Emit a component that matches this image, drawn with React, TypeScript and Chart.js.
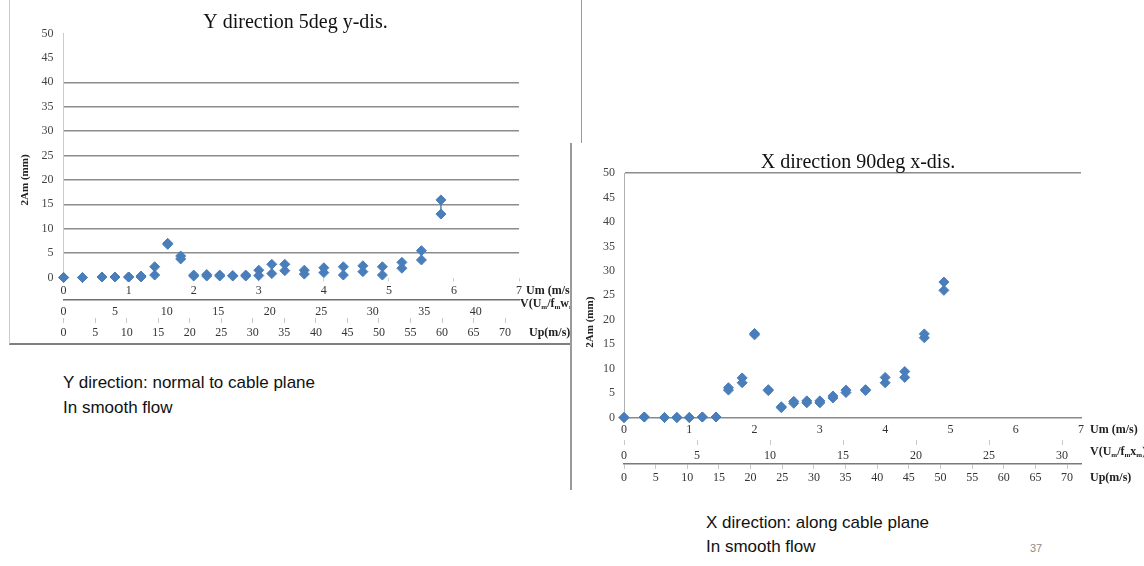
import React, { useEffect, useRef } from 'react';
import { Chart, registerables } from 'chart.js';

Chart.register(...registerables);

const SERIF = '"Liberation Serif", "Times New Roman", serif';
const SANS = '"Liberation Sans", Arial, sans-serif';
const BLUE = '#4a7ebb';

// ---- Y direction 5deg y-dis. (left chart): Um (m/s) and the two measured 2Am values ----
const yDirUm = [0, 0.29, 0.59, 0.79, 1.0, 1.19, 1.4, 1.6, 1.8, 2.0, 2.2, 2.4, 2.6, 2.8, 3.0, 3.2, 3.4, 3.7, 4.0, 4.3, 4.6, 4.9, 5.2, 5.5, 5.8];
const yDirUpper = [0, 0, 0.1, 0.1, 0.1, 0.3, 2.2, 7.0, 4.4, 0.5, 0.6, 0.5, 0.4, 0.5, 1.5, 2.7, 2.7, 1.5, 2.0, 2.2, 2.4, 2.2, 3.1, 5.5, 15.9];
const yDirLower = [0, 0, 0.1, 0.1, 0.1, 0.1, 0.5, 6.8, 3.8, 0.3, 0.3, 0.3, 0.3, 0.3, 0.4, 0.8, 1.4, 0.7, 1.0, 0.5, 1.2, 0.5, 1.9, 3.6, 13.0];

// ---- X direction 90deg x-dis. (right chart) ----
const xDirUm = [0, 0.31, 0.62, 0.81, 1.0, 1.2, 1.41, 1.6, 1.81, 2.0, 2.21, 2.41, 2.6, 2.8, 3.0, 3.2, 3.4, 3.7, 4.0, 4.3, 4.6, 4.9];
const xDirUpper = [0, 0.1, 0, 0, 0, 0.1, 0.1, 6.1, 8.1, 17.2, 5.7, 2.2, 3.3, 3.4, 3.4, 4.4, 5.6, 5.7, 8.2, 9.4, 17.1, 27.7];
const xDirLower = [0, 0.1, 0, 0, 0, 0.1, 0.1, 5.6, 7.1, 16.9, 5.5, 2.0, 2.9, 3.0, 3.0, 4.0, 5.1, 5.5, 7.1, 8.2, 16.3, 26.0];

// ---- axis ranges / ticks ----
const amMax = 50;
const amStep = 5;
const umMax = 7;
const umStep = 1;
const yDirVMax = 44.2;
const xDirVMax = 31.3;
const vStep = 5;
const upMax = 72.2;
const upStep = 5;

// ---- texts ----
const Y_TITLE = '2Am (mm)';
const UM_NAME = [{ t: 'Um (m/s)' }];
const UP_NAME = [{ t: 'Up(m/s)' }];
const V_NAME_Y = [{ t: 'V(U' }, { t: 'm', sub: true }, { t: '/f' }, { t: 'm', sub: true }, { t: 'w' }, { t: 'm', sub: true }, { t: ')' }];
const V_NAME_X = [{ t: 'V(U' }, { t: 'm', sub: true }, { t: '/f' }, { t: 'm', sub: true }, { t: 'x' }, { t: 'm', sub: true }, { t: ')' }];

type Seg = { t: string; sub?: boolean };

function drawRich(ctx: CanvasRenderingContext2D, x: number, y: number, segs: Seg[], size: number) {
  let cx = x;
  for (const s of segs) {
    const fs = s.sub ? Math.round(size * 0.62) : size;
    ctx.font = `bold ${fs}px ${SERIF}`;
    ctx.fillText(s.t, cx, s.sub ? y + size * 0.28 : y);
    cx += ctx.measureText(s.t).width;
  }
}

function makeExtras(L: any) {
  return {
    id: 'extras' + L.key,
    beforeDatasetsDraw(chart: any) {
      const xs = chart.scales.x;
      const ys = chart.scales.y;
      const ctx = chart.ctx as CanvasRenderingContext2D;
      ctx.save();
      ctx.strokeStyle = BLUE;
      ctx.lineWidth = 1.5;
      L.um.forEach((u: number, i: number) => {
        const px = xs.getPixelForValue(u);
        const a = ys.getPixelForValue(L.lower[i]);
        const b = ys.getPixelForValue(L.upper[i]);
        if (Math.abs(a - b) > 1) {
          ctx.beginPath();
          ctx.moveTo(px, a);
          ctx.lineTo(px, b);
          ctx.stroke();
        }
      });
      ctx.restore();
    },
    afterDraw(chart: any) {
      const ctx = chart.ctx as CanvasRenderingContext2D;
      const area = chart.chartArea;
      ctx.save();
      ctx.fillStyle = '#222';
      ctx.textBaseline = 'middle';
      ctx.textAlign = 'center';
      ctx.font = `bold 11px ${SERIF}`;
      ctx.translate(area.left + L.yTitleDx, area.top + (area.bottom - area.top) * L.yTitleFrac);
      ctx.rotate(-Math.PI / 2);
      ctx.fillText(Y_TITLE, 0, 0);
      ctx.restore();
      ctx.save();
      ctx.fillStyle = '#222';
      ctx.textBaseline = 'middle';
      ctx.textAlign = 'left';
      for (const n of L.names) {
        const s = chart.scales[n.scale];
        drawRich(ctx, area.right + n.dx, s.top + n.dy, n.segs, 12);
      }
      ctx.restore();
    },
  };
}

const tickFont = { family: SERIF, size: 12 };

function buildConfig(L: any): any {
  const pts = (ys: number[]) => L.um.map((u: number, i: number) => ({ x: u, y: ys[i] }));
  const ds = (ys: number[]) => ({
    data: pts(ys),
    pointStyle: 'rectRot',
    pointRadius: 5,
    backgroundColor: BLUE,
    borderColor: BLUE,
    borderWidth: 1,
    clip: false,
  });
  return {
    type: 'scatter',
    data: { datasets: [ds(L.lower), ds(L.upper)] },
    plugins: [makeExtras(L)],
    options: {
      responsive: false,
      animation: false,
      events: [],
      layout: { padding: 0 },
      plugins: {
        legend: { display: false },
        tooltip: { enabled: false },
        title: {
          display: true,
          text: L.title,
          color: '#111',
          font: { family: SERIF, size: 20, weight: 'normal', lineHeight: 1.05 },
          padding: L.titlePad,
        },
      },
      scales: {
        y: {
          type: 'linear',
          position: 'left',
          min: 0,
          max: amMax,
          afterFit: (s: any) => { s.width = L.yWidth; },
          ticks: { stepSize: amStep, padding: L.yTickPad, color: '#444', font: tickFont },
          grid: {
            drawTicks: false,
            lineWidth: 1.5,
            color: (c: any) => L.gridColor(c.tick ? c.tick.value : -1),
          },
          border: { display: true, color: L.yAxisColor, width: 1 },
        },
        rpad: {
          type: 'linear',
          axis: 'y',
          position: 'right',
          display: true,
          afterFit: (s: any) => { s.width = L.padRight; },
          ticks: { display: false },
          grid: { display: false, drawTicks: false },
          border: { display: false },
        },
        x: {
          type: 'linear',
          position: 'bottom',
          weight: 0,
          min: 0,
          max: umMax,
          afterFit: (s: any) => { s.height = L.umH; },
          ticks: { stepSize: umStep, padding: L.umPad, color: '#333', font: tickFont, autoSkip: false, maxRotation: 0, includeBounds: false },
          grid: { drawOnChartArea: false, drawTicks: L.umTicks > 0, tickLength: L.umTicks, color: '#cfcfcf' },
          border: { display: L.umBorder, color: '#8a8a8a', width: 1.5 },
        },
        v: {
          type: 'linear',
          axis: 'x',
          position: 'bottom',
          weight: 1,
          min: 0,
          max: L.vMax,
          afterFit: (s: any) => { s.height = L.vH; },
          ticks: { stepSize: vStep, padding: L.vPad, color: '#333', font: tickFont, autoSkip: false, maxRotation: 0, includeBounds: false },
          grid: { drawOnChartArea: false, drawTicks: L.vTicks > 0, tickLength: L.vTicks, color: '#c8c8c8' },
          border: { display: L.vBorder, color: '#6f6f6f', width: 1.5 },
        },
        up: {
          type: 'linear',
          axis: 'x',
          position: 'bottom',
          weight: 2,
          min: 0,
          max: upMax,
          afterFit: (s: any) => { s.height = L.upH; },
          ticks: { stepSize: upStep, padding: L.upPad, color: '#333', font: tickFont, autoSkip: false, maxRotation: 0, includeBounds: false },
          grid: { drawOnChartArea: false, drawTicks: true, tickLength: 5, color: '#c8c8c8' },
          border: { display: L.upBorder, color: '#7a7a7a', width: 1.5 },
        },
      },
    },
  };
}

const LEFT = {
  key: 'Y',
  title: 'Y direction 5deg y-dis.',
  um: yDirUm,
  upper: yDirUpper,
  lower: yDirLower,
  w: 571,
  h: 343,
  padRight: 62,
  yWidth: 53.6,
  yTickPad: 10,
  titlePad: { top: 12, bottom: 0.5 },
  gridColor: (v: number) => (v >= 5 && v <= 40 ? '#8c8c8c' : 'rgba(0,0,0,0)'),
  yAxisColor: '#cccccc',
  umH: 22.5, umPad: 2, umTicks: 4, umBorder: false,
  vH: 18, vPad: 5, vTicks: 0, vBorder: true, vMax: yDirVMax,
  upH: 25, upPad: 3, upBorder: false,
  yTitleDx: -38.6,
  yTitleFrac: 0.6,
  names: [
    { scale: 'x', dx: 7, dy: 13.5, segs: UM_NAME },
    { scale: 'v', dx: 1, dy: 3.5, segs: V_NAME_Y },
    { scale: 'up', dx: 10, dy: 14.5, segs: UP_NAME },
  ],
};

const RIGHT = {
  key: 'X',
  title: 'X direction 90deg x-dis.',
  um: xDirUm,
  upper: xDirUpper,
  lower: xDirLower,
  w: 572,
  h: 347,
  padRight: 63,
  yWidth: 52,
  yTickPad: 9,
  titlePad: { top: 9, bottom: 0 },
  gridColor: (v: number) => (v === 50 ? '#8c8c8c' : 'rgba(0,0,0,0)'),
  yAxisColor: '#b0b0b0',
  umH: 22.5, umPad: 5, umTicks: 0, umBorder: true,
  vH: 24, vPad: 3.8, vTicks: 5, vBorder: false, vMax: xDirVMax,
  upH: 26, upPad: 2, upBorder: true,
  yTitleDx: -34,
  yTitleFrac: 0.61,
  names: [
    { scale: 'x', dx: 9, dy: 12, segs: UM_NAME },
    { scale: 'v', dx: 9, dy: 12, segs: V_NAME_X },
    { scale: 'up', dx: 9, dy: 14, segs: UP_NAME },
  ],
};

function ChartCanvas({ L, left, top }: { L: any; left: number; top: number }) {
  const ref = useRef<HTMLCanvasElement>(null);
  useEffect(() => {
    const chart = new Chart(ref.current as HTMLCanvasElement, buildConfig(L));
    return () => chart.destroy();
  }, []);
  return (
    <canvas
      ref={ref}
      width={L.w}
      height={L.h}
      style={{ position: 'absolute', left, top, width: L.w, height: L.h, display: 'block' }}
    />
  );
}

export default function App() {
  const note: React.CSSProperties = {
    position: 'absolute',
    fontFamily: SANS,
    fontSize: 17,
    lineHeight: '25px',
    color: '#111',
    whiteSpace: 'nowrap',
  };
  return (
    <div style={{ position: 'fixed', left: 0, top: 0, width: 1144, height: 566, background: '#fff', overflow: 'hidden' }}>
      {/* left panel */}
      <div
        style={{
          position: 'absolute', left: 9, top: -2, width: 571, height: 345,
          borderLeft: '1px solid #cccccc', borderRight: '1.5px solid #9a9a9a', borderBottom: '2px solid #7f7f7f',
          background: '#fff',
        }}
      >
        <ChartCanvas L={LEFT} left={0} top={2} />
      </div>
      {/* right panel */}
      <div
        style={{
          position: 'absolute', left: 570, top: 143, width: 574, height: 347,
          borderLeft: '2px solid #9a9a9a', background: '#fff', zIndex: 2,
        }}
      >
        <ChartCanvas L={RIGHT} left={0} top={0} />
      </div>
      <div style={{ ...note, left: 63, top: 370 }}>
        Y direction: normal to cable plane<br />In smooth flow
      </div>
      <div style={{ ...note, left: 706, top: 511, lineHeight: '24px' }}>
        X direction: along cable plane<br />In smooth flow
      </div>
      <div style={{ position: 'absolute', left: 1030, top: 542, fontFamily: SANS, fontSize: 11, color: '#8c8c8c' }}>37</div>
    </div>
  );
}
